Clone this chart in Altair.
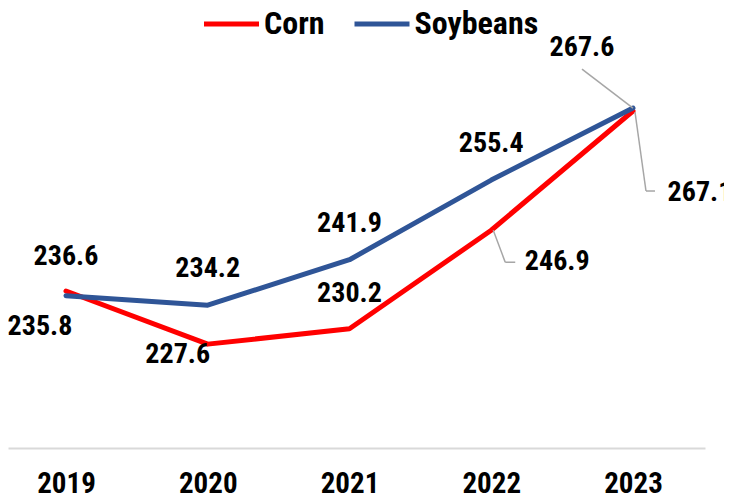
import altair as alt
import pandas as pd

years = [2019, 2020, 2021, 2022, 2023]
corn = [236.6, 227.6, 230.2, 246.9, 267.1]
soybeans = [235.8, 234.2, 241.9, 255.4, 267.6]
series = ["Corn", "Soybeans"]
colors = ["#FF0000", "#2F5597"]

rows = []
for s, vals in zip(series, [corn, soybeans]):
    for y, v in zip(years, vals):
        rows.append({"year": y, "value": v, "series": s})
df = pd.DataFrame(rows)

FONT = "Roboto Condensed"
FS = 28

x_scale = alt.Scale(domain=[2018.591, 2023.508], nice=False, zero=False)
x_enc = alt.X("year:Q", title=None, scale=x_scale,
              axis=alt.Axis(values=years, format="d", labelFont=FONT, labelFontSize=29,
                            labelFontWeight="bold", labelColor="#000000", labelAngle=0,
                            ticks=False, tickSize=0, domain=False, labelPadding=21,
                            grid=False, labelFlush=False))
y_enc = alt.Y("value:Q", title=None,
              scale=alt.Scale(domain=[210, 283.2], nice=False, zero=False),
              axis=alt.Axis(values=[210], grid=True, gridColor="#D9D9D9", gridWidth=2,
                            labels=False, ticks=False, domain=False))

base = alt.Chart(df)

lines = base.mark_line(strokeWidth=5, strokeCap="round", strokeJoin="round").encode(
    x=x_enc, y=y_enc,
    color=alt.Color("series:N", scale=alt.Scale(domain=series, range=colors),
                    legend=alt.Legend(title=None, orient="none", direction="horizontal",
                                      legendX=207.5, legendY=-8, symbolType="M-2.75,0H2.75",
                                      symbolSize=400, symbolStrokeWidth=5,
                                      labelFont=FONT, labelFontSize=32, labelFontWeight="bold",
                                      labelColor="#000000", labelOffset=16.5,
                                      columnPadding=19.5, padding=0, labelLimit=300)),
    order=alt.Order("year:Q"),
)

# label placement offsets (styling)
label_style = {
    ("Corn", 2019): (0, -34), ("Corn", 2020): (-30, 11), ("Corn", 2021): (0, -35),
    ("Corn", 2022): (66, 32), ("Corn", 2023): (67, 82),
    ("Soybeans", 2019): (-26, 31), ("Soybeans", 2020): (0, -36),
    ("Soybeans", 2021): (0, -36), ("Soybeans", 2022): (0, -36),
    ("Soybeans", 2023): (-51, -60),
}

layers = [lines]
for (s, yr), (dx, dy) in label_style.items():
    layers.append(
        base.transform_filter((alt.datum.series == s) & (alt.datum.year == yr))
        .mark_text(font=FONT, fontSize=FS, fontWeight="bold", color="#000000",
                   align="center", baseline="middle", dx=dx, dy=dy)
        .encode(x=alt.X("year:Q", scale=x_scale), y="value:Q",
                text=alt.Text("value:Q", format=".1f"))
    )

# leader lines (styling offsets from the data point)
leaders = [
    ("Corn", 2022, (2, 0), (14, 32)), ("Corn", 2022, (14, 32), (24, 32)),
    ("Corn", 2023, (2, 1), (13, 80)), ("Corn", 2023, (13, 80), (22, 80)),
    ("Soybeans", 2023, (0, 0), (-51, -39)),
]
for s, yr, (x1, y1), (x2, y2) in leaders:
    layers.append(
        base.transform_filter((alt.datum.series == s) & (alt.datum.year == yr))
        .mark_rule(color="#A6A6A6", strokeWidth=1.5,
                   xOffset=x1, yOffset=y1, x2Offset=x2, y2Offset=y2)
        .encode(x=alt.X("year:Q", scale=x_scale), y="value:Q",
                x2=alt.X2("year:Q"), y2=alt.Y2("value:Q"))
    )

chart = alt.layer(*layers).properties(
    width=697, height=432,
    autosize=alt.AutoSizeParams(type="none"),
    padding={"left": 0, "top": 8, "right": 19, "bottom": 46},
    background="#FFFFFF",
).configure_view(stroke=None)

chart.save("out.html", embed_options={"renderer": "svg", "actions": False})
